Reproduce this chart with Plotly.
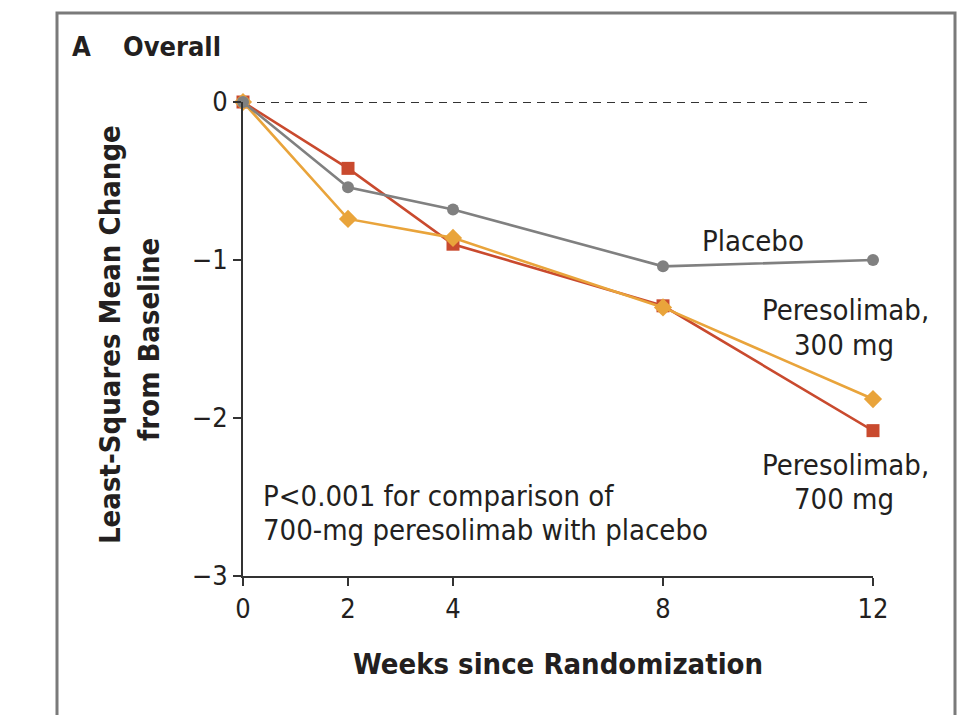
import plotly.graph_objects as go

weeks = [0, 2, 4, 8, 12]
placebo = [0, -0.54, -0.68, -1.04, -1.00]
peres_300 = [0, -0.74, -0.86, -1.30, -1.88]
peres_700 = [0, -0.42, -0.90, -1.29, -2.08]

x_ticks = [0, 2, 4, 8, 12]
y_ticks = [0, -1, -2, -3]

FONT = "Liberation Sans Narrow, DejaVu Sans Condensed, sans-serif"
GRAY = "#808080"
RED = "#C94A2E"
ORANGE = "#E9A43B"
TXT = "#231F20"

W, H = 973, 715
L, R, T, B = 243, 100, 102, 139
PW, PH = W - L - R, H - T - B


def px(xp):
    return (xp - L) / PW


def py(yp):
    return (H - B - yp) / PH


fig = go.Figure()

fig.add_trace(go.Scatter(x=[0, 12], y=[0, 0], mode="lines",
                         line=dict(color="#333333", width=2.2, dash="8px,6px"),
                         hoverinfo="skip", showlegend=False, cliponaxis=False))
fig.add_trace(go.Scatter(x=weeks, y=peres_700, mode="lines+markers", name="Peresolimab, 700 mg",
                         line=dict(color=RED, width=2.6),
                         marker=dict(symbol="square", size=13, color=RED),
                         cliponaxis=False))
fig.add_trace(go.Scatter(x=weeks, y=peres_300, mode="lines+markers", name="Peresolimab, 300 mg",
                         line=dict(color=ORANGE, width=2.6),
                         marker=dict(symbol="diamond", size=14, color=ORANGE),
                         cliponaxis=False))
fig.add_trace(go.Scatter(x=weeks, y=placebo, mode="lines+markers", name="Placebo",
                         line=dict(color=GRAY, width=2.6),
                         marker=dict(symbol="circle", size=12, color=GRAY),
                         cliponaxis=False))

axis_common = dict(showgrid=False, zeroline=False, showline=True, linecolor="#333333",
                   linewidth=2, ticks="outside", ticklen=8, tickwidth=2, tickcolor="#333333",
                   tickfont=dict(family=FONT, size=27, color=TXT))

fig.update_xaxes(range=[0, 12], tickvals=x_ticks, ticktext=[str(v) for v in x_ticks],
                 **axis_common)
fig.update_yaxes(range=[-3, 0], tickvals=y_ticks,
                 ticktext=["0" if v == 0 else "\u2212" + str(abs(v)) for v in y_ticks],
                 **axis_common)

ann = [
    dict(text="<b>A</b>", x=70, y=47, xa="left", size=27),
    dict(text="<b>Overall</b>", x=121, y=47, xa="left", size=27),
    dict(text="<b>Weeks since Randomization</b>", x=558, y=664, xa="center", size=29),
    dict(text="Placebo", x=753, y=241, xa="center", size=29),
    dict(text="Peresolimab,", x=931, y=310, xa="right", size=29),
    dict(text="300 mg", x=844, y=345, xa="center", size=29),
    dict(text="Peresolimab,", x=931, y=465, xa="right", size=29),
    dict(text="700 mg", x=844, y=499, xa="center", size=29),
    dict(text="P<0.001 for comparison of", x=261, y=496, xa="left", size=29),
    dict(text="700-mg peresolimab with placebo", x=261, y=530, xa="left", size=29),
]
annotations = []
for a in ann:
    annotations.append(dict(text=a["text"], x=px(a["x"]), y=py(a["y"]), xref="paper", yref="paper",
                             xanchor=a["xa"], yanchor="middle", showarrow=False,
                             font=dict(family=FONT, size=a["size"], color=TXT)))
for text, xp, yp in [("<b>Least-Squares Mean Change</b>", 110, 335),
                     ("<b>from Baseline</b>", 149, 340)]:
    annotations.append(dict(text=text, x=px(xp), y=py(yp), xref="paper", yref="paper",
                            xanchor="center", yanchor="middle", textangle=-90, showarrow=False,
                            font=dict(family=FONT, size=29, color=TXT)))

fig.update_layout(
    width=W, height=H, margin=dict(l=L, r=R, t=T, b=B),
    paper_bgcolor="white", plot_bgcolor="white", showlegend=False,
    annotations=annotations,
    shapes=[dict(type="rect", xref="paper", yref="paper",
                 x0=px(57), x1=px(955), y0=py(722), y1=py(13),
                 line=dict(color="#7a7a7a", width=3), fillcolor="rgba(0,0,0,0)", layer="below")],
)

fig.write_html("out.html")
